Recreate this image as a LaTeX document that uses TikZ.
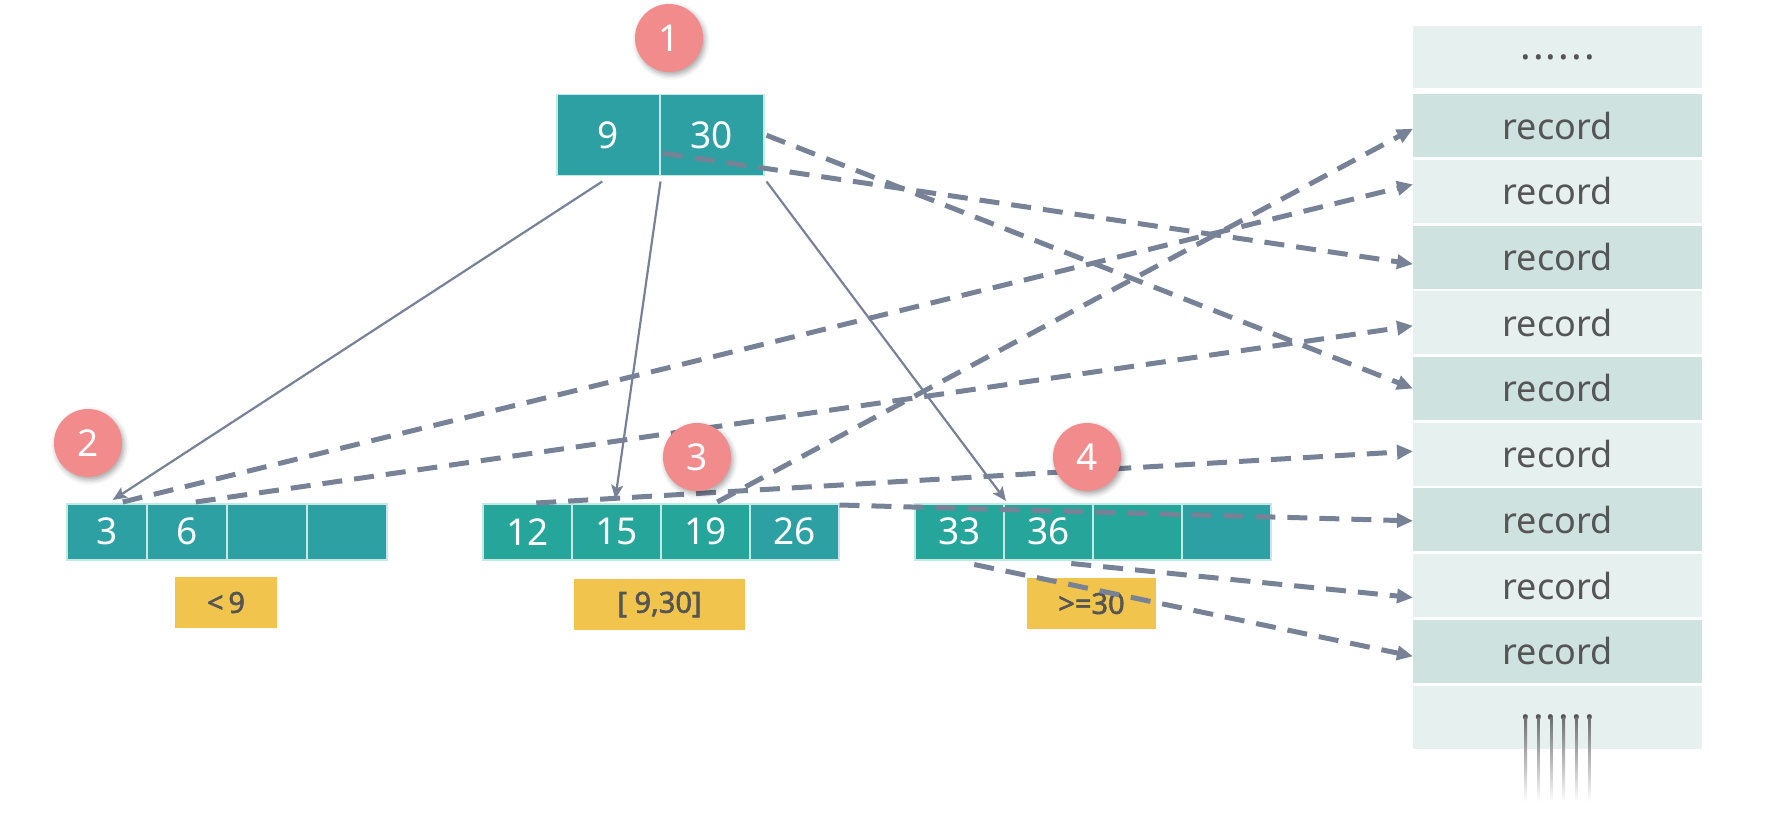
\documentclass[tikz,border=0pt]{standalone}
\usepackage{fontspec}
\setmainfont{Noto Sans}
\newfontfamily\labelfont{Noto Sans}[FakeBold=2]
\usetikzlibrary{arrows.meta,calc,shadows.blur}
\definecolor{tealA}{HTML}{2CA0A3}
\definecolor{tealB}{HTML}{26A69A}
\definecolor{cellline}{HTML}{C4E8E5}
\definecolor{pinkc}{HTML}{F28B8B}
\definecolor{labely}{HTML}{F1C44E}
\definecolor{txtgray}{HTML}{555555}
\definecolor{recdark}{HTML}{CEE2DF}
\definecolor{reclight}{HTML}{E6F0EE}
\definecolor{linec}{HTML}{778296}
\newcommand\sixdots{.\kern2pt.\kern2pt.\kern2pt.\kern2pt.\kern2pt.}
\begin{document}
\begin{tikzpicture}[x=1pt,y=-1pt,
  cellbase/.style={draw=cellline, line width=1.5pt, anchor=north west, inner sep=0pt,
    text=white, font=\fontsize{37}{37}\selectfont},
  rootcell/.style={cellbase, fill=tealA, minimum width=103pt, minimum height=81pt},
  leafA/.style={cellbase, fill=tealA, minimum width=80pt, minimum height=56pt},
  leafB/.style={cellbase, fill=tealB, minimum width=89pt, minimum height=56pt},
  leafC/.style={cellbase, fill=tealA, minimum width=89pt, minimum height=56pt},
  badge/.style={circle, fill=pinkc, minimum size=68pt, inner sep=0pt, text=white,
    font=\fontsize{37}{37}\selectfont,
    blur shadow={shadow xshift=2pt, shadow yshift=-3pt, shadow blur radius=5pt, shadow opacity=35}},
  rangebox/.style={fill=labely, minimum height=51pt, inner sep=0pt, text=txtgray,
    font=\labelfont\fontsize{29}{29}\selectfont},
  recbase/.style={anchor=north west, minimum width=289pt, minimum height=63pt, inner sep=0pt,
    text=txtgray, font=\fontsize{36}{36}\selectfont},
  recD/.style={recbase, fill=recdark},
  recL/.style={recbase, fill=reclight},
  tree/.style={draw=linec, line width=2.2pt, -{Stealth[length=14pt,width=12pt,inset=3pt]}},
  ptr/.style={draw=linec, line width=5pt, dash pattern=on 20pt off 12pt,
    -{Triangle[length=16pt,width=14pt]}}
]
\useasboundingbox (0,0) rectangle (1792,818);

% records column
\node[recL, minimum height=62pt] (rec0) at (1413,26) {\fontsize{40}{40}\selectfont\sixdots};
\node[recD] (rec1) at (1413,94) {record};
\node[recL] (rec2) at (1413,159.7) {record};
\node[recD] (rec3) at (1413,225.4) {record};
\node[recL] (rec4) at (1413,291.1) {record};
\node[recD] (rec5) at (1413,356.8) {record};
\node[recL] (rec6) at (1413,422.5) {record};
\node[recD] (rec7) at (1413,488.2) {record};
\node[recL] (rec8) at (1413,553.9) {record};
\node[recD] (rec9) at (1413,619.6) {record};
\node[recL] (rec10) at (1413,685.3) {\fontsize{40}{40}\selectfont\sixdots};
\foreach \xx in {1525.8,1538.5,1551.2,1563.9,1576.6,1589.3}
  \shade[top color=txtgray!85, bottom color=white] (\xx-1.2,717) rectangle (\xx+1.2,802);

% root
\node[rootcell] (r9) at (556,94) {9};
\node[rootcell, minimum width=104pt] (r30) at (659,94) {30};

% leaf 1
\node[leafA] (a3) at (66,503) {3};
\node[leafA] (a6) at (146,503) {6};
\node[leafA] (a7) at (226,503) {};
\node[leafA] (a8) at (306,503) {};

% leaf 2
\node[leafB] (b12) at (482,503) {12};
\node[leafB] (b15) at (571,503) {15};
\node[leafB] (b19) at (660,503) {19};
\node[leafC] (b26) at (749,503) {26};

% leaf 3
\node[leafB] (c33) at (914,503) {33};
\node[leafB] (c36) at (1003,503) {36};
\node[leafB] (c37) at (1092,503) {};
\node[leafC] (c38) at (1181,503) {};

% range labels
\node[rangebox, minimum width=102pt] (l1) at (226,602.5) {<\,9};
\node[rangebox, minimum width=171pt] (l2) at (659.5,604.5) {[ 9,30]};
\node[rangebox, minimum width=129pt] (l3) at (1091.5,603.5) {>=30};

% tree links
\draw[tree] ($(r9.south)+(-6,5)$) -- ($(a3.north)+(6,-3)$);
\draw[tree] ($(r9.south east)+(0,5)$) -- ($(b15.north)+(-1,-4)$);
\draw[tree] ($(r30.south east)+(2,5)$) -- ($(c36.north west)+(3,-2)$);

% record pointers
\draw[ptr] ($(r30.east)+(2,0)$) -- (rec5.west);
\draw[ptr] ($(r30.west)+(4,18)$) -- ($(rec3.west)+(0,7)$);
\draw[ptr] ($(a3.north)+(16,-1)$) -- ($(rec2.west)+(0,-7)$);
\draw[ptr] ($(a6.north)+(9,-1)$) -- ($(rec4.west)+(0,3)$);
\draw[ptr] ($(b12.north)+(9,0)$) -- ($(rec6.west)+(0,-3)$);
\draw[ptr] ($(b19.north)+(12,-1)$) -- ($(rec1.west)+(0,3)$);
\draw[ptr] ($(b26.north east)+(0,2)$) -- ($(rec7.west)+(0,1)$);
\draw[ptr] ($(c33.south)+(15,4)$) -- ($(rec9.west)+(0,5)$);
\draw[ptr] ($(c36.south)+(23,3)$) -- ($(rec8.west)+(0,12)$);

% badges
\node[badge] (n1) at (669,38) {1};
\node[badge] (n2) at (88,443) {2};
\node[badge] (n3) at (697,457) {3};
\node[badge] (n4) at (1087,457) {4};
\end{tikzpicture}
\end{document}
